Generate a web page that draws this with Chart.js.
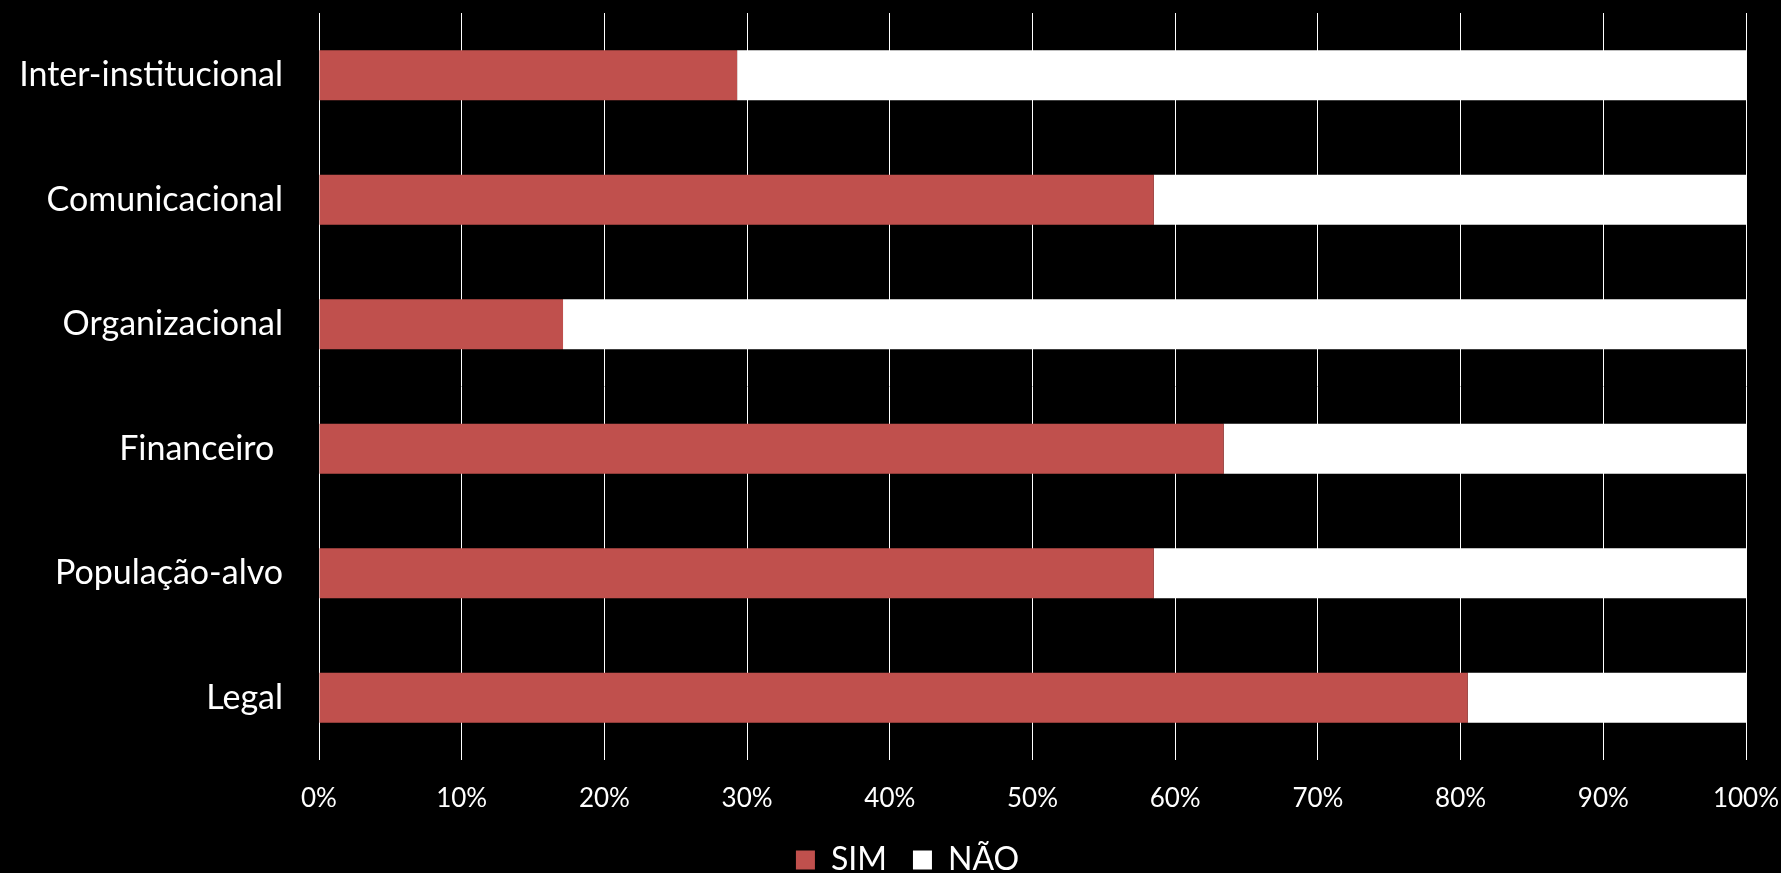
<!DOCTYPE html>
<html lang="pt">
<head>
  <meta charset="UTF-8" />
  <title>SIM / NÃO</title>
  <script src="https://cdn.jsdelivr.net/npm/chart.js"></script>
  <style>
    html, body {
      margin: 0;
      padding: 0;
      background: #000;
    }
    #wrap {
      width: 1781px;
      height: 873px;
    }
  </style>
</head>
<body>
  <div id="wrap"><canvas id="chart"></canvas></div>

  <script>
    // Data (percent of respondents)
    const categories = ['Inter-institucional', 'Comunicacional', 'Organizacional', 'Financeiro ', 'População-alvo', 'Legal'];
    const simValues = [29.3, 58.5, 17.1, 63.4, 58.5, 80.5];
    const naoValues = [70.7, 41.5, 82.9, 36.6, 41.5, 19.5];
    const xTicks = [0, 10, 20, 30, 40, 50, 60, 70, 80, 90, 100];

    const FONT = 'Lato, "Open Sans", sans-serif';

    // legend in the original sits a bit right of the canvas centre
    const legendShift = {
      id: 'legendShift',
      afterLayout(chart) {
        if (chart.legend) chart.legend.left = 69;
      }
    };

    new Chart(document.getElementById('chart'), {
      type: 'bar',
      data: {
        labels: categories,
        datasets: [
          { label: 'SIM', data: simValues, backgroundColor: '#C0504D' },
          { label: 'NÃO', data: naoValues, backgroundColor: '#FFFFFF' }
        ]
      },
      options: {
        indexAxis: 'y',
        responsive: true,
        maintainAspectRatio: false,
        animation: false,
        categoryPercentage: 0.4,
        barPercentage: 1,
        // negative bottom pushes the legend down to the canvas edge
        layout: { padding: { top: 13, right: 35, bottom: -13, left: 0 } },
        plugins: {
          tooltip: { enabled: false },
          legend: {
            position: 'bottom',
            labels: {
              color: '#fff',
              boxWidth: 19,
              boxHeight: 19,
              padding: 26,
              font: { family: FONT, size: 32 }
            }
          }
        },
        scales: {
          x: {
            stacked: true,
            min: 0,
            max: 100,
            afterBuildTicks: axis => { axis.ticks = xTicks.map(v => ({ value: v })); },
            afterFit: axis => {
              axis.height = 58;
              axis.paddingLeft = 0;
              axis.paddingRight = 0;
            },
            grid: { color: '#fff', lineWidth: 1, drawTicks: false },
            border: { display: false },
            ticks: {
              color: '#fff',
              padding: 23,
              maxRotation: 0,
              font: { family: FONT, size: 26 },
              callback: v => v + '%'
            }
          },
          y: {
            stacked: true,
            afterFit: axis => {
              axis.width = 319;
              axis.paddingTop = 0;
              axis.paddingBottom = 0;
            },
            grid: { display: false, drawTicks: false },
            border: { display: false },
            ticks: {
              color: '#fff',
              padding: 36,
              font: { family: FONT, size: 34 }
            }
          }
        }
      },
      plugins: [legendShift]
    });
  </script>
</body>
</html>
